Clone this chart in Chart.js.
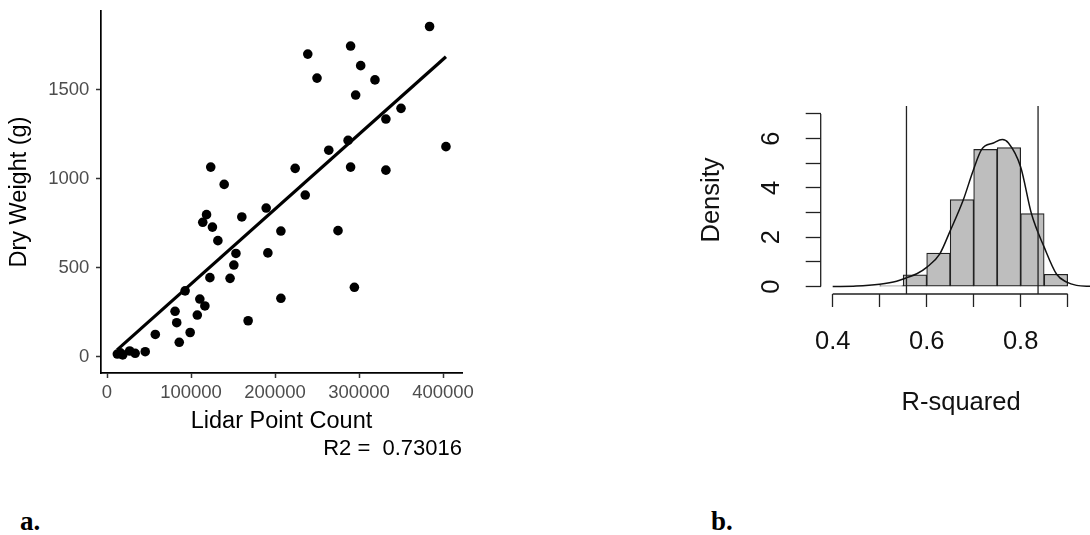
<!DOCTYPE html>
<html>
<head>
<meta charset="utf-8">
<title>Dry weight vs lidar point count</title>
<script src="https://cdn.jsdelivr.net/npm/chart.js@4.4.1/dist/chart.umd.min.js"></script>
<style>
  html, body { margin: 0; padding: 0; background: #fff; }
  #page { position: relative; width: 1090px; height: 535px; overflow: hidden; }
  .panel { position: absolute; top: 0; }
  #boxA { left: 0; width: 480px; height: 470px; }
  #boxB { left: 690px; width: 440px; height: 440px; }
  .tag {
    position: absolute; top: 508px;
    font-family: 'Liberation Serif', 'Times New Roman', serif;
    font-weight: bold; font-size: 27px; line-height: 27px; color: #000;
  }
</style>
</head>
<body>
<div id="page">
  <div class="panel" id="boxA"><canvas id="scatterChart"></canvas></div>
  <div class="panel" id="boxB"><canvas id="histChart"></canvas></div>
  <div class="tag" style="left:20px">a.</div>
  <div class="tag" style="left:711px">b.</div>
</div>
<script>
'use strict';

// --- panel a: lidar point count vs dry weight ---
const lidarCounts = [
  239000, 290000, 384000, 302000, 250000, 319000, 296000, 350000, 332000, 287000,
  264000, 403500, 123500, 224000, 290000, 332000, 139500, 236000, 118500, 114000,
  125500, 160500, 189500, 132000, 207000, 275000, 153500, 191500, 151000, 146500,
  122500, 93000, 294500, 110500, 116500, 207000, 81000, 83000, 107500, 168000,
  99000, 57500, 86000, 45500, 33500, 27000, 12300, 16000, 18700
];
const dryWeights = [
  1700, 1745, 1855, 1635, 1565, 1555, 1470, 1395, 1335, 1215,
  1160, 1180, 1065, 1058, 1065, 1048, 968, 908, 798, 755,
  728, 785, 835, 652, 706, 708, 580, 583, 515, 440,
  444, 370, 390, 324, 285, 328, 255, 191, 234, 202,
  136, 125, 81, 28, 19, 32, 15, 22, 10
];
const fitX = [12000, 403500];
const fitY = [38, 1685];
const countTicks = [0, 100000, 200000, 300000, 400000];
const weightTicks = [0, 500, 1000, 1500];

// --- panel b: bootstrap R-squared histogram ---
const binMids = [0.525, 0.575, 0.625, 0.675, 0.725, 0.775, 0.825, 0.875];
const binDensity = [0.04, 0.48, 1.36, 3.53, 5.56, 5.63, 2.96, 0.5];
const curveR2 = [0.40, 0.45, 0.50, 0.536, 0.557, 0.579, 0.60, 0.628, 0.65, 0.678,
  0.699, 0.717, 0.742, 0.761, 0.774, 0.80, 0.823, 0.85, 0.8765, 0.898, 0.919, 0.947, 0.972];
const curveDensity = [0, 0.02, 0.1, 0.22, 0.36, 0.52, 0.78, 1.33, 2.26, 3.52,
  4.71, 5.56, 5.82, 5.96, 5.82, 4.85, 2.95, 1.6, 0.5, 0.18, 0.05, 0.01, 0];
const ciBounds = [0.557, 0.837];
const r2Ticks = [0.4, 0.5, 0.6, 0.7, 0.8, 0.9];
const r2Labels = ['0.4', '', '0.6', '', '0.8', ''];
const densTicks = [0, 1, 2, 3, 4, 5, 6, 7];
const densLabels = ['0', '', '2', '', '4', '', '6', ''];

const SANS = "'Liberation Sans', Arial, Helvetica, sans-serif";
Chart.defaults.font.family = SANS;
Chart.defaults.animation = false;

const setTicks = list => scale => { scale.ticks = list.map(v => ({ value: v })); };
// fix the box size and drop the label overhang padding, so the plot area sits where layout.padding says
const fixBox = (w, h) => s => {
  if (w != null) s.width = w;
  if (h != null) s.height = h;
  s.paddingTop = s.paddingBottom = s.paddingLeft = s.paddingRight = 0;
};

(function drawScatter() {
  const el = document.getElementById('scatterChart');
  new Chart(el.getContext('2d'), {
    type: 'scatter',
    data: {
      datasets: [
        {
          type: 'line',
          data: fitX.map((x, i) => ({ x, y: fitY[i] })),
          borderColor: '#000',
          borderWidth: 3.2,
          pointRadius: 0,
        },
        {
          data: lidarCounts.map((x, i) => ({ x, y: dryWeights[i] })),
          backgroundColor: '#000',
          borderWidth: 0,
          pointRadius: 4.8,
        },
      ],
    },
    options: {
      responsive: true,
      maintainAspectRatio: false,
      layout: { padding: { top: 11, left: 0, right: 18, bottom: 8.2 } },
      plugins: {
        legend: { display: false },
        tooltip: { enabled: false },
        title: {
          display: true,
          text: 'R2 =  0.73016',
          position: 'bottom',
          align: 'end',
          fullSize: false,
          color: '#000',
          font: { size: 22, weight: 'normal' },
          padding: { top: 0, bottom: 0 },
        },
      },
      scales: {
        x: {
          type: 'linear',
          min: -7143,
          max: 422600,
          afterBuildTicks: setTicks(countTicks),
          afterFit: fixBox(null, 62.4),
          grid: { drawOnChartArea: false, tickLength: 5, tickColor: '#333', tickWidth: 1.5 },
          border: { display: true, color: '#000', width: 1.7 },
          ticks: {
            color: '#4d4d4d', font: { size: 18.5 }, padding: 3.4,
            maxRotation: 0, autoSkip: false, callback: v => String(v),
          },
          title: {
            display: true, text: 'Lidar Point Count', color: '#000',
            font: { size: 23.5 }, padding: { top: 0, bottom: 0 },
          },
        },
        y: {
          type: 'linear',
          min: -91.6,
          max: 1942,
          afterBuildTicks: setTicks(weightTicks),
          afterFit: fixBox(101, null),
          grid: { drawOnChartArea: false, tickLength: 5, tickColor: '#333', tickWidth: 1.5 },
          border: { display: true, color: '#000', width: 1.7 },
          ticks: {
            color: '#4d4d4d', font: { size: 18.5 }, padding: 6.7,
            autoSkip: false, callback: v => String(v),
          },
          title: {
            display: true, text: 'Dry Weight (g)', color: '#000',
            font: { size: 23.5 }, padding: { top: 5.9, bottom: 0 },
          },
        },
      },
    },
  });
})();

(function drawHistogram() {
  // base-R style axes: lines run only from first to last tick
  const rAxes = {
    id: 'rAxes',
    afterDraw(chart) {
      const { ctx, chartArea, scales: { x, y } } = chart;
      ctx.save();
      ctx.strokeStyle = '#222';
      ctx.lineWidth = 1.3;
      ctx.beginPath();
      ctx.moveTo(x.getPixelForValue(r2Ticks[0]), chartArea.bottom);
      ctx.lineTo(x.getPixelForValue(r2Ticks[r2Ticks.length - 1]), chartArea.bottom);
      ctx.moveTo(chartArea.left, y.getPixelForValue(densTicks[0]));
      ctx.lineTo(chartArea.left, y.getPixelForValue(densTicks[densTicks.length - 1]));
      ctx.stroke();
      ctx.restore();
    },
  };

  const yLo = -0.3, yHi = 7.32;
  const ciSets = ciBounds.map(v => ({
    type: 'line',
    data: [{ x: v, y: yLo }, { x: v, y: yHi }],
    borderColor: '#222',
    borderWidth: 1.3,
    pointRadius: 0,
  }));

  const el = document.getElementById('histChart');
  new Chart(el.getContext('2d'), {
    type: 'bar',
    data: {
      datasets: [
        ...ciSets,
        {
          type: 'line',
          data: curveR2.map((x, i) => ({ x, y: curveDensity[i] })),
          borderColor: '#111',
          borderWidth: 1.5,
          pointRadius: 0,
          cubicInterpolationMode: 'monotone',
        },
        {
          type: 'bar',
          data: binMids.map((x, i) => ({ x, y: binDensity[i] })),
          backgroundColor: '#bebebe',
          borderColor: '#222',
          borderWidth: 1.2,
          borderSkipped: false,
          barPercentage: 1,
          categoryPercentage: 1,
        },
      ],
    },
    options: {
      responsive: true,
      maintainAspectRatio: false,
      layout: { padding: { top: 106, left: 0, right: 28.5, bottom: 21.4 } },
      plugins: { legend: { display: false }, tooltip: { enabled: false } },
      scales: {
        x: {
          type: 'linear',
          offset: false,
          min: 0.3745,
          max: 0.972,
          afterBuildTicks: setTicks(r2Ticks),
          afterFit: fixBox(null, 124.6),
          grid: { offset: false, drawOnChartArea: false, tickLength: 13, tickColor: '#222', tickWidth: 1.3 },
          border: { display: false },
          ticks: {
            color: '#111', font: { size: 25.5 }, padding: 19.4,
            maxRotation: 0, autoSkip: false,
            callback: (v, i) => r2Labels[i],
          },
          title: {
            display: true, text: 'R-squared', color: '#111',
            font: { size: 25.5 }, padding: { top: 0, bottom: 0 },
          },
        },
        y: {
          type: 'linear',
          min: yLo,
          max: yHi,
          afterBuildTicks: setTicks(densTicks),
          afterFit: fixBox(130.7, null),
          grid: { drawOnChartArea: false, tickLength: 15, tickColor: '#222', tickWidth: 1.3 },
          border: { display: false },
          ticks: {
            color: '#111', font: { size: 25.5 }, padding: 26.6,
            minRotation: 90, maxRotation: 90, crossAlign: 'center',
            autoSkip: false, callback: (v, i) => densLabels[i],
          },
          title: {
            display: true, text: 'Density', color: '#111',
            font: { size: 25.5 }, padding: { top: 7, bottom: 0 },
          },
        },
      },
    },
    plugins: [rAxes],
  });
})();
</script>
</body>
</html>
